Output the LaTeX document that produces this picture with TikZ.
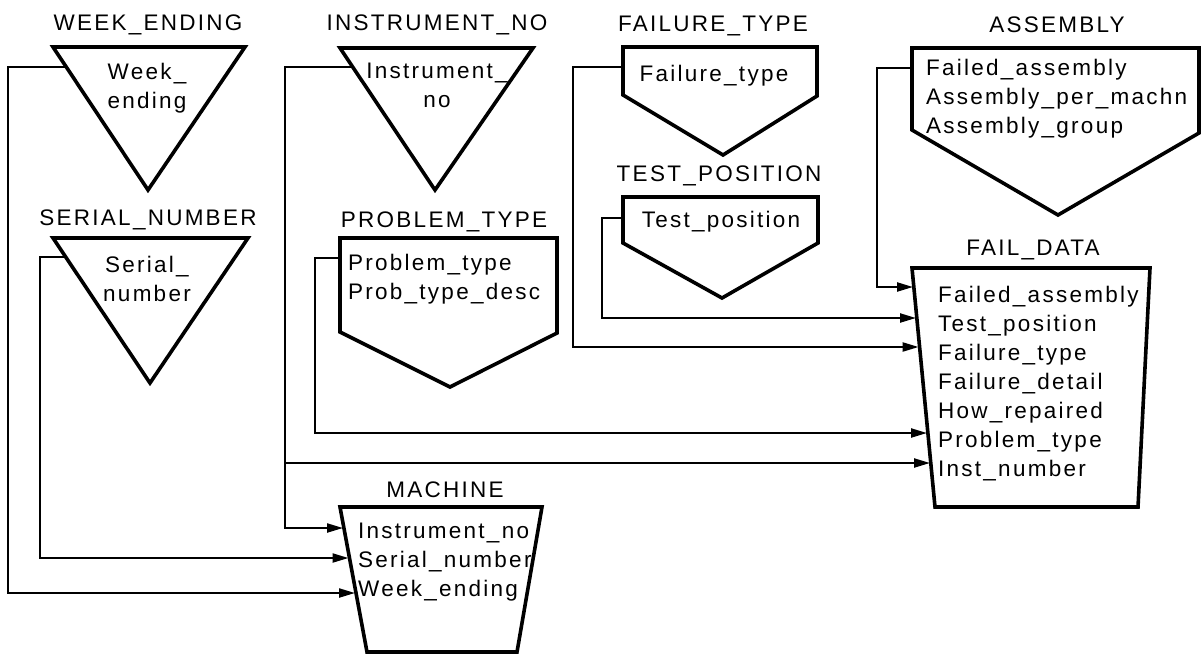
\documentclass[tikz,border=0pt]{standalone}
\usepackage{fontspec}
\setmainfont{Liberation Sans}[LetterSpace=10]
\usetikzlibrary{arrows.meta,calc}
\begin{document}
\begin{tikzpicture}[x=1pt,y=-1pt,
  ent/.style={line width=3.6pt, line join=miter},
  conn/.style={line width=2.2pt, -{Triangle[length=16pt,width=9pt]}},
  title/.style={anchor=base, inner sep=0pt, font=\fontsize{22.5}{29}\selectfont},
  body/.style={anchor=base west, inner sep=0pt, font=\fontsize{22.5}{29}\selectfont},
  cbody/.style={anchor=base, inner sep=0pt, font=\fontsize{22.5}{29}\selectfont}]
\useasboundingbox (0,0) rectangle (1204,654);

% ---------- entities ----------
% WEEK_ENDING
\draw[ent] (53,47) -- (245,47) -- (148,190) -- cycle;
\node[title] (we-title) at (148,30) {WEEK\_ENDING};
\node[cbody] (we-text) at (147,79) {\begin{tabular}[t]{@{}c@{}}Week\_\\ending\end{tabular}};

% SERIAL_NUMBER
\draw[ent] (53,238) -- (248,238) -- (150,383) -- cycle;
\node[title] (sn-title) at (148,225) {SERIAL\_NUMBER};
\node[cbody] (sn-text) at (147,272) {\begin{tabular}[t]{@{}c@{}}Serial\_\\number\end{tabular}};

% INSTRUMENT_NO
\draw[ent] (340,48) -- (533,48) -- (435,190) -- cycle;
\node[title] (in-title) at (437,30) {INSTRUMENT\_NO};
\node[cbody] (in-text) at (437,78) {\begin{tabular}[t]{@{}c@{}}Instrument\_\\no\end{tabular}};

% PROBLEM_TYPE
\draw[ent] (340,238) -- (557,238) -- (557,333) -- (450,387) -- (340,332) -- cycle;
\node[title] (pt-title) at (444,227) {PROBLEM\_TYPE};
\node[body] (pt-text) at (348,270) {\begin{tabular}[t]{@{}l@{}}Problem\_type\\Prob\_type\_desc\end{tabular}};

% FAILURE_TYPE
\draw[ent] (623,47) -- (817,47) -- (817,96) -- (723,155) -- (623,95) -- cycle;
\node[title] (ft-title) at (713,31) {FAILURE\_TYPE};
\node[cbody] (ft-text) at (714,81) {Failure\_type};

% TEST_POSITION
\draw[ent] (623,197) -- (818,197) -- (818,243) -- (722,298) -- (623,243) -- cycle;
\node[title] (tp-title) at (719,181) {TEST\_POSITION};
\node[cbody] (tp-text) at (721,227) {Test\_position};

% ASSEMBLY
\draw[ent] (912,48) -- (1199,48) -- (1199,133) -- (1058,215) -- (912,130) -- cycle;
\node[title] (as-title) at (1057,32) {ASSEMBLY};
\node[body] (as-text) at (926,75) {\begin{tabular}[t]{@{}l@{}}Failed\_assembly\\Assembly\_per\_machn\\Assembly\_group\end{tabular}};

% FAIL_DATA
\draw[ent] (912,268) -- (1150,268) -- (1138,507) -- (935,507) -- cycle;
\node[title] (fd-title) at (1033,255) {FAIL\_DATA};
\node[body] (fd-text) at (938,302) {\begin{tabular}[t]{@{}l@{}}Failed\_assembly\\Test\_position\\Failure\_type\\Failure\_detail\\How\_repaired\\Problem\_type\\Inst\_number\end{tabular}};

% MACHINE
\draw[ent] (340,507) -- (542,507) -- (517,652) -- (367,652) -- cycle;
\node[title] (ma-title) at (445,497) {MACHINE};
\node[body] (ma-text) at (358,538) {\begin{tabular}[t]{@{}l@{}}Instrument\_no\\Serial\_number\\Week\_ending\end{tabular}};

% ---------- connection points ----------
\coordinate (we-out) at (66,67);
\coordinate (sn-out) at (66,257);
\coordinate (in-out) at (353,67);
\coordinate (pt-out) at (340,258);
\coordinate (ft-out) at (623,67);
\coordinate (tp-out) at (623,218);
\coordinate (as-out) at (912,68);
\coordinate (in-branch) at (285,463);

\coordinate (ma-in) at (343,528);
\coordinate (ma-sn) at (348.5,558);
\coordinate (ma-we) at (355,593);

\coordinate (fd-as) at (913,287);
\coordinate (fd-tp) at (916,318);
\coordinate (fd-ft) at (918.6,347);
\coordinate (fd-pt) at (927,433);
\coordinate (fd-in) at (930,463);

% ---------- connectors ----------
\draw[conn] (we-out) -- (8,67) |- (ma-we);
\draw[conn] (sn-out) -- (40,257) |- (ma-sn);
\draw[conn] (in-out) -- (285,67) |- (ma-in);
\draw[conn] (in-branch) -- (fd-in);
\draw[conn] (pt-out) -- (315,258) |- (fd-pt);
\draw[conn] (ft-out) -- (573,67) |- (fd-ft);
\draw[conn] (tp-out) -- (602,218) |- (fd-tp);
\draw[conn] (as-out) -- (877,68) |- (fd-as);
\end{tikzpicture}
\end{document}
